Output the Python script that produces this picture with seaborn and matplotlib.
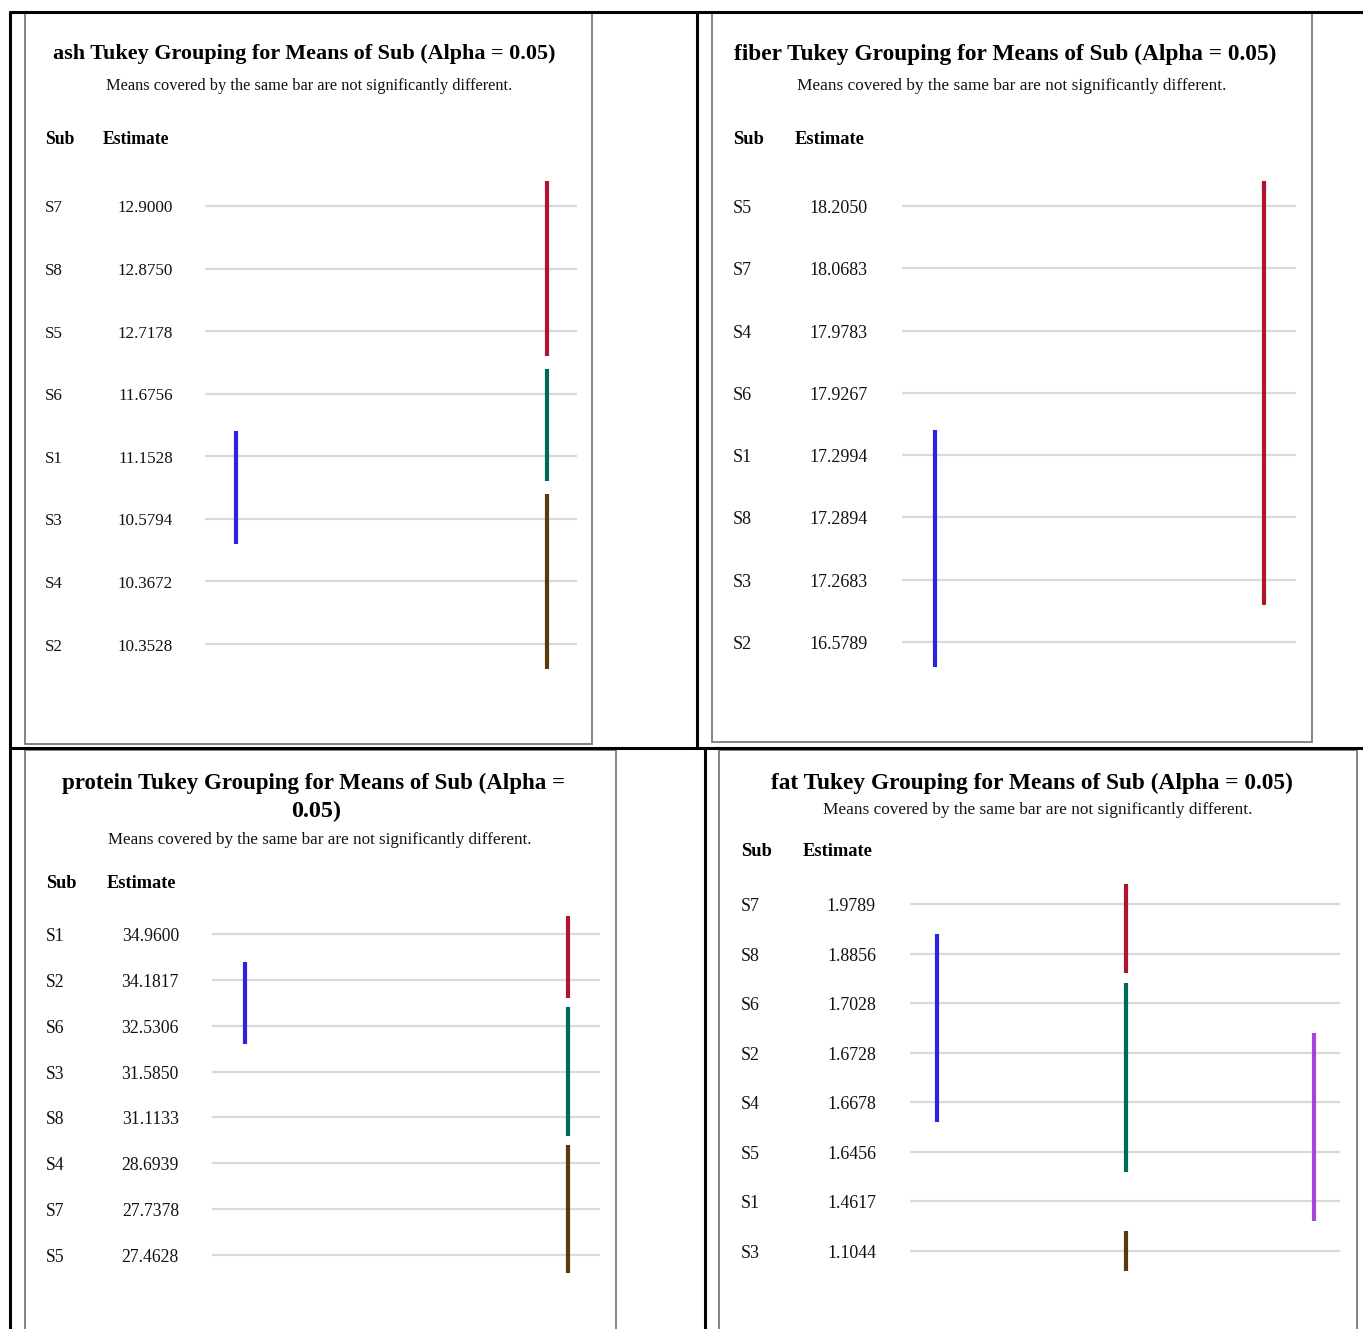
import numpy as np
import pandas as pd
import matplotlib
matplotlib.use("Agg")
import matplotlib.pyplot as plt
import matplotlib.transforms as mtrans
from matplotlib.patches import Rectangle
import seaborn as sns

# ---------------- data ----------------
ash_subs = ["S7", "S8", "S5", "S6", "S1", "S3", "S4", "S2"]
ash_est = [12.9000, 12.8750, 12.7178, 11.6756, 11.1528, 10.5794, 10.3672, 10.3528]
ash_bar_col = [2, 2, 2, 1]
ash_bar_start = ["S7", "S6", "S3", "S1"]
ash_bar_end = ["S5", "S1", "S2", "S3"]
ash_bar_color = ["red", "teal", "brown", "blue"]

fiber_subs = ["S5", "S7", "S4", "S6", "S1", "S8", "S3", "S2"]
fiber_est = [18.2050, 18.0683, 17.9783, 17.9267, 17.2994, 17.2894, 17.2683, 16.5789]
fiber_bar_col = [2, 1]
fiber_bar_start = ["S5", "S1"]
fiber_bar_end = ["S3", "S2"]
fiber_bar_color = ["red", "blue"]

protein_subs = ["S1", "S2", "S6", "S3", "S8", "S4", "S7", "S5"]
protein_est = [34.9600, 34.1817, 32.5306, 31.5850, 31.1133, 28.6939, 27.7378, 27.4628]
protein_bar_col = [2, 2, 2, 1]
protein_bar_start = ["S1", "S6", "S4", "S2"]
protein_bar_end = ["S2", "S8", "S5", "S6"]
protein_bar_color = ["red", "teal", "brown", "blue"]

fat_subs = ["S7", "S8", "S6", "S2", "S4", "S5", "S1", "S3"]
fat_est = [1.9789, 1.8856, 1.7028, 1.6728, 1.6678, 1.6456, 1.4617, 1.1044]
fat_bar_col = [2, 2, 2, 1, 3]
fat_bar_start = ["S7", "S6", "S3", "S8", "S2"]
fat_bar_end = ["S8", "S5", "S3", "S4", "S1"]
fat_bar_color = ["red", "teal", "brown", "blue", "purple"]

palette = {"red": "#B0152F", "teal": "#00695B", "brown": "#5A3A0C",
           "blue": "#2B24DA", "purple": "#A445DD"}

# ---------------- setup ----------------
sns.set_theme(style="white")
plt.rcParams["font.family"] = ["Liberation Serif", "DejaVu Serif"]

W, H = 1363, 1329
fig = plt.figure(figsize=(W / 100, H / 100), dpi=100)
fig.patch.set_facecolor("white")
over = fig.add_axes([0, 0, 1, 1])
over.set_xlim(0, W)
over.set_ylim(H, 0)
over.axis("off")
over.patch.set_alpha(0)
renderer = fig.canvas.get_renderer()
DY = 2  # small downward text offset (px)


def fit_text(ax, x, y, s, width, transform=None, **kw):
    kws = dict(kw)
    if transform is not None:
        kws["transform"] = transform
    t = ax.text(x, y, s, fontsize=10, **kws)
    w = t.get_window_extent(renderer).width
    t.set_fontsize(10 * width / w)
    return t


# outer table lines
lk = dict(color="black", lw=2.2, solid_capstyle="butt", zorder=10)
over.plot([9, W], [12, 12], **lk)
over.plot([10, 10], [11, H], **lk)
over.plot([697, 697], [12, 748], **lk)
over.plot([9, W], [748, 748], **lk)
over.plot([705, 705], [748, H], **lk)

panels = [
    dict(name="ash", subs=ash_subs, est=ash_est, bcol=ash_bar_col, bs=ash_bar_start,
         be=ash_bar_end, bc=ash_bar_color,
         box=(25, 13, 592, 744), title=["ash Tukey Grouping for Means of Sub (Alpha = 0.05)"],
         tpos=[(304, 52)], twid=[504], sub=(309, 84), subw=407,
         hdr_y=138, sub_x=45, est_x=103, estw=67, val_r=173, valw=55,
         lines=(205, 577), rows=(206, 644), cols=(0.083, 0.919)),
    dict(name="fiber", subs=fiber_subs, est=fiber_est, bcol=fiber_bar_col, bs=fiber_bar_start,
         be=fiber_bar_end, bc=fiber_bar_color,
         box=(712, 13, 1312, 742), title=["fiber Tukey Grouping for Means of Sub (Alpha = 0.05)"],
         tpos=[(1005, 52)], twid=[545], sub=(1012, 84), subw=430,
         hdr_y=138, sub_x=733, est_x=795, estw=70, val_r=868, valw=58,
         lines=(902, 1296), rows=(206, 642), cols=(0.084, 0.919)),
    dict(name="protein", subs=protein_subs, est=protein_est, bcol=protein_bar_col,
         bs=protein_bar_start, be=protein_bar_end, bc=protein_bar_color,
         box=(25, 750, 616, 1400),
         title=["protein Tukey Grouping for Means of Sub (Alpha =", "0.05)"],
         tpos=[(313, 781), (316, 809)], twid=[504, 50], sub=(320, 838), subw=423,
         hdr_y=881, sub_x=46, est_x=107, estw=69, val_r=179, valw=57,
         lines=(212, 600), rows=(934, 1255), cols=(0.085, 0.918)),
    dict(name="fat", subs=fat_subs, est=fat_est, bcol=fat_bar_col, bs=fat_bar_start,
         be=fat_bar_end, bc=fat_bar_color,
         box=(719, 750, 1357, 1400), title=["fat Tukey Grouping for Means of Sub (Alpha = 0.05)"],
         tpos=[(1032, 781)], twid=[526], sub=(1038, 808), subw=430,
         hdr_y=850, sub_x=741, est_x=803, estw=70, val_r=876, valw=49,
         lines=(910, 1340), rows=(904, 1251), cols=(0.063, 0.94)),
]

for p in panels:
    x0, y0, x1, y1 = p["box"]
    over.add_patch(Rectangle((x0, y0), x1 - x0, y1 - y0, fill=False,
                             edgecolor="#7a7a7a", lw=1.3, zorder=5))
    # titles
    for s, (tx, ty), tw in zip(p["title"], p["tpos"], p["twid"]):
        fit_text(over, tx, ty + DY, s, tw, ha="center", va="center", fontweight="bold",
                 color="black")
    fit_text(over, p["sub"][0], p["sub"][1] + DY,
             "Means covered by the same bar are not significantly different.",
             p["subw"], ha="center", va="center", color="#111111")
    th = fit_text(over, p["est_x"], p["hdr_y"] + DY, "Estimate", p["estw"], ha="left",
                  va="center", fontweight="bold", color="black")
    over.text(p["sub_x"], p["hdr_y"] + DY, "Sub", fontsize=th.get_fontsize(),
              fontweight="bold", ha="left", va="center", color="black")

    # data axes
    n = len(p["subs"])
    ra, rb = p["rows"]
    sp = (rb - ra) / (n - 1)
    la, lb = p["lines"]
    top = ra - 0.5 * sp
    bot = rb + 0.5 * sp
    ax = fig.add_axes([la / W, 1 - bot / H, (lb - la) / W, (bot - top) / H])
    ax.patch.set_alpha(0)
    ncol = max(p["bcol"])
    if ncol == 1:
        ncol = 2
    fa, fb = p["cols"]
    unit = (fb - fa) / (ncol - 1)
    xl = (1 - fa / unit, ncol + (1 - fb) / unit)
    yl = (n - 0.5, -0.5)

    rows_idx = np.arange(n)
    for r in rows_idx:
        ax.axhline(r, color="#d9d9d9", lw=1.6, zorder=1)

    recs = []
    for i, (c, s0, s1, col) in enumerate(zip(p["bcol"], p["bs"], p["be"], p["bc"])):
        r0 = p["subs"].index(s0) - 0.4
        r1 = p["subs"].index(s1) + 0.4
        recs.append(dict(bar=f"b{i}", x=c, y=r0, color=col))
        recs.append(dict(bar=f"b{i}", x=c, y=r1, color=col))
    df = pd.DataFrame(recs)
    pal = {f"b{i}": palette[c] for i, c in enumerate(p["bc"])}
    sns.lineplot(data=df, x="x", y="y", hue="bar", units="bar", estimator=None,
                 sort=False, palette=pal, lw=3, legend=False, ax=ax,
                 solid_capstyle="butt", zorder=3)
    ax.set_xlim(*xl)
    ax.set_ylim(*yl)
    for sp_ in ax.spines.values():
        sp_.set_visible(False)
    ax.set_xticks([])
    ax.set_yticks([])
    ax.set_xlabel("")
    ax.set_ylabel("")

    tr = mtrans.blended_transform_factory(over.transData, ax.transData)
    off = 2.5 / sp
    tv = fit_text(ax, p["val_r"], 0 + off, f"{p['est'][0]:.4f}", p["valw"], transform=tr,
                  ha="right", va="center", color="#111111")
    vs = tv.get_fontsize()
    for r, (s, v) in enumerate(zip(p["subs"], p["est"])):
        ax.text(p["sub_x"], r + off, s, transform=tr, fontsize=vs, ha="left", va="center",
                color="#111111")
        if r > 0:
            ax.text(p["val_r"], r + off, f"{v:.4f}", transform=tr, fontsize=vs, ha="right",
                    va="center", color="#111111")

fig.savefig("out.png", dpi=100, facecolor="white")
